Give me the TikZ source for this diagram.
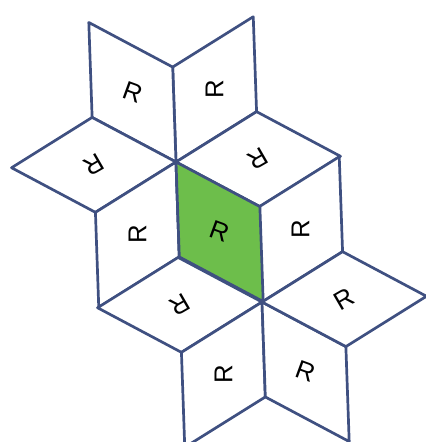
\documentclass[tikz,border=0pt]{standalone}
\usepackage{fontspec}
\setsansfont{Liberation Sans}
\usetikzlibrary{calc}
\definecolor{edge}{HTML}{3F5081}
\definecolor{leaf}{HTML}{6DBE4B}

\begin{document}
\begin{tikzpicture}[
  x=0.03cm,y=0.03cm,
  tile/.style={draw=edge,line width=2.3pt,line join=round,fill=#1},
  tile/.default=white,
  letter/.style={font=\sffamily\fontsize{22}{22}\selectfont,text=black,inner sep=0pt}
]
\useasboundingbox (0,0) rectangle (426,-442);
\coordinate (A) at (176,-162);
\coordinate (B) at (262,-302);
% two six-rhombus stars sharing the green tile
\foreach \a in {32,92,152,212,272,332}
  \draw[tile] (A) -- ++(\a:95) -- ++(\a+60:95) -- ++(\a+180:95) -- cycle;
\foreach \a in {32,152,212,272,332}
  \draw[tile] (B) -- ++(\a:95) -- ++(\a+60:95) -- ++(\a+180:95) -- cycle;
\draw[tile=leaf] (A) -- ++(272:95) -- ++(332:95) -- ++(92:95) -- cycle;
% letters
\foreach \a/\r in {32/90,92/-20,152/-150,212/90,272/-20,332/-150}
  \node[letter,rotate=\r] (rA-\a) at ($(A)+(\a+30:82)$) {R};
\foreach \a/\r in {32/90,152/-150,212/90,272/-20,332/30}
  \node[letter,rotate=\r] (rB-\a) at ($(B)+(\a+30:82)$) {R};
\end{tikzpicture}
\end{document}
